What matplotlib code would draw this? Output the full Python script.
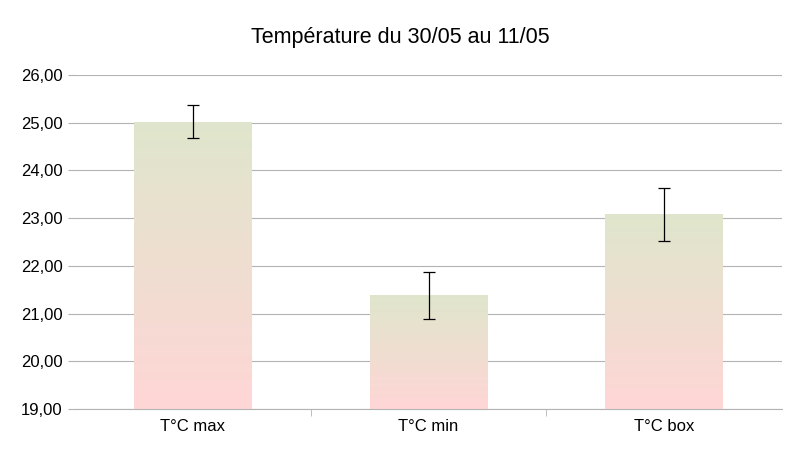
import matplotlib
matplotlib.use("Agg")
import matplotlib.pyplot as plt
import numpy as np
from matplotlib.colors import LinearSegmentedColormap

categories = ["T°C max", "T°C min", "T°C box"]
values = [25.01, 21.39, 23.09]
err_low = [24.68, 20.89, 22.52]
err_high = [25.37, 21.87, 23.63]

plt.rcParams["font.family"] = ["Liberation Sans", "DejaVu Sans"]

fig = plt.figure(figsize=(8.01, 4.51), dpi=100)
ax = fig.add_axes([75 / 801, 1 - 409 / 451, 707 / 801, 334 / 451])

x = np.arange(len(categories))
bars = ax.bar(x, np.array(values) - 19, bottom=19, width=0.5, color="none", zorder=2)
cmap = LinearSegmentedColormap.from_list("g", ["#ffd6d6", "#dfe6cc"])
grad = np.linspace(0, 1, 256).reshape(-1, 1)
for b, v in zip(bars, values):
    im = ax.imshow(grad, cmap=cmap, origin="lower", aspect="auto",
                   extent=[b.get_x(), b.get_x() + b.get_width(), 19, v], zorder=2)
    im.set_clip_path(b)

yerr = [np.array(values) - np.array(err_low), np.array(err_high) - np.array(values)]
ax.errorbar(x, values, yerr=yerr, fmt="none", ecolor="black", elinewidth=0.9,
            capsize=4, capthick=0.9, zorder=3)

ax.set_xlim(-0.5, 2.5)
ax.set_ylim(19, 26)
ax.set_yticks(np.arange(19, 27, 1))
ax.set_yticklabels([f"{v:.2f}".replace(".", ",") for v in np.arange(19, 27, 1)], fontsize=12)
ax.yaxis.grid(True, color="#b3b3b3", linewidth=0.8, zorder=0)
ax.set_axisbelow(True)
ax.set_xticks(x)
ax.set_xticklabels(categories, fontsize=12)
ax.tick_params(axis="x", length=0, pad=7)
ax.set_xticks([0.5, 1.5], minor=True)
ax.tick_params(axis="x", which="minor", length=5, color="#b3b3b3")
ax.tick_params(axis="y", length=5, color="#b3b3b3", pad=4)
for s in ["top", "right", "left"]:
    ax.spines[s].set_visible(False)
ax.spines["bottom"].set_color("#b3b3b3")

fig.suptitle("Température du 30/05 au 11/05", fontsize=15.5, y=0.94)
fig.savefig("out.png", dpi=100)
